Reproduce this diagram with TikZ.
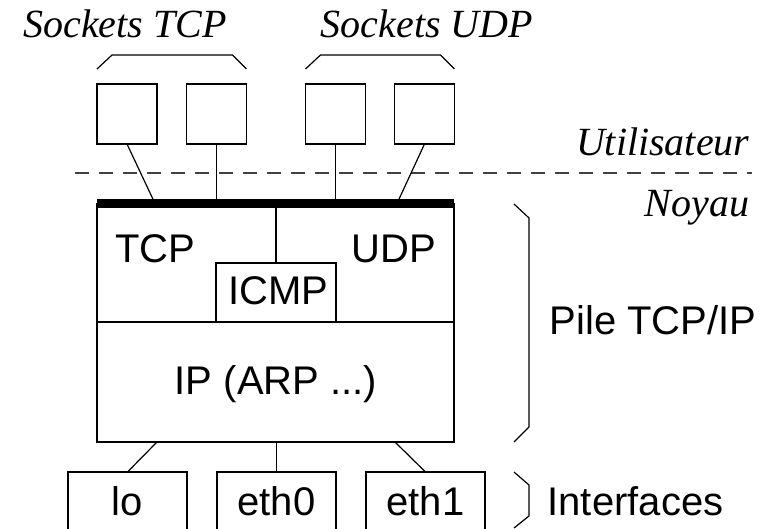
\documentclass[tikz,border=0pt]{standalone}
\usepackage{fontspec}
\setmainfont{Liberation Sans}
\newfontfamily\labelserif{Liberation Serif}
\usetikzlibrary{calc}

\begin{document}
\begin{tikzpicture}[x=1pt,y=-1pt,line width=1.2pt,
  sans/.style={font=\fontsize{40}{48}\selectfont, inner sep=0pt, anchor=base},
  ital/.style={font=\labelserif\itshape\fontsize{40}{48}\selectfont, inner sep=0pt, anchor=base},
  frame/.style={draw, rectangle, inner sep=0pt, outer sep=0pt},
  sockbox/.style={frame, minimum width=60pt, minimum height=60pt},
  ifbox/.style={frame, minimum width=119pt, minimum height=100pt}]

\useasboundingbox (0,0) rectangle (764,529);
\clip (0,0) rectangle (764,529);

% socket groups
\node[ital] (tcplab) at (125,37.7) {Sockets TCP};
\node[ital] (udplab) at (427,37.7) {Sockets UDP};

\node[sockbox] (s1) at (127,114) {};
\node[sockbox] (s2) at (216.5,114) {};
\node[sockbox] (s3) at (335.5,114) {};
\node[sockbox] (s4) at (424.5,114) {};

\draw ($(s1.north west)+(0,-15)$) -- ($(s1.north west)+(15,-29)$)
   -- ($(s2.north east)+(-14,-29)$) -- ($(s2.north east)+(0,-15)$);
\draw ($(s3.north west)+(0,-15)$) -- ($(s3.north west)+(15,-29)$)
   -- ($(s4.north east)+(-14,-29)$) -- ($(s4.north east)+(0,-15)$);

% user / kernel boundary
\draw[dash pattern=on 14pt off 10pt, black!75] (75,173) -- (752,173);
\node[ital, anchor=base east] (user) at (750,156) {Utilisateur};
\node[ital, anchor=base east] (kernel) at (750,217) {Noyau};

% protocol stack
\node[frame, minimum width=357pt, minimum height=238.5pt] (stack) at (275.5,322.75) {};
\node[frame, minimum width=120pt, minimum height=59pt] (icmp) at (276,292.5) {};
\draw (stack.west |- icmp.south) -- (stack.east |- icmp.south);
\draw (icmp.north) -- (icmp.north |- stack.north);
\draw[line width=9pt] (stack.north west) -- (stack.north east);

\node[sans] (tcp) at (155,263) {TCP};
\node[sans] (udp) at (394,263) {UDP};
\node[sans] (icmplab) at (278,305) {ICMP};
\node[sans] (ip) at (276,395) {IP (ARP ...)};

% sockets attached to the stack
\coordinate (t1) at (155,203.5);
\coordinate (t2) at (216.5,203.5);
\coordinate (t3) at (335.5,203.5);
\coordinate (t4) at (397,203.5);
\draw (s1.south) -- (t1);
\draw (s2.south) -- (t2);
\draw (s3.south) -- (t3);
\draw (s4.south) -- (t4);

% network interfaces
\node[ifbox] (lo) at (127.5,522) {};
\node[ifbox] (eth0) at (276.5,522) {};
\node[ifbox] (eth1) at (425.5,522) {};
\node[sans] (lolab) at (127.5,515) {lo};
\node[sans] (eth0lab) at (276.5,515) {eth0};
\node[sans] (eth1lab) at (425.5,515) {eth1};

\coordinate (b1) at (157,442);
\coordinate (b2) at (276.5,442);
\coordinate (b3) at (395,442);
\draw (b1) -- (lo.north);
\draw (b2) -- (eth0.north);
\draw (b3) -- (eth1.north);

% braces on the right
\draw (514,204) -- (529,218) -- (529,427) -- (514,442);
\node[sans, anchor=base west] (pile) at (549,335) {Pile TCP/IP};
\draw (514,472) -- (529,485) -- (529,516) -- (514,528);
\node[sans, anchor=base west] (ifaces) at (547,515) {Interfaces};
\end{tikzpicture}
\end{document}
